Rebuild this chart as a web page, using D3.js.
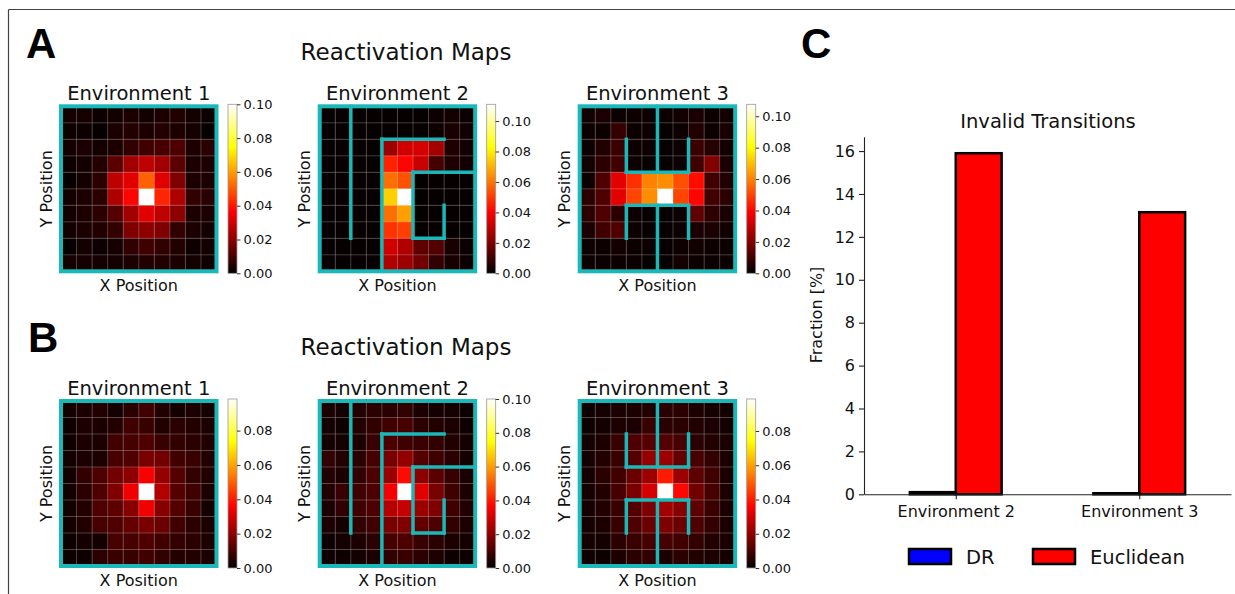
<!DOCTYPE html>
<html>
<head>
<meta charset="utf-8">
<script src="https://cdn.jsdelivr.net/npm/d3@7"></script>
<style>
body{margin:0;background:#fff;}
text{font-family:"DejaVu Sans",sans-serif;fill:#111;}
</style>
</head>
<body>
<div id="wrap"></div>
<script>
// ---- data ----
var envNames = ["Environment 1", "Environment 2", "Environment 3"];

// reactivation maps, rows top -> bottom, cols left -> right
var mapA1 = [
  [0.003,0.003,0.002,0.003,0.004,0.003,0.004,0.005,0.003,0.002],
  [0.002,0.002,0.001,0.004,0.005,0.004,0.005,0.004,0.003,0.001],
  [0.003,0.004,0.003,0.004,0.007,0.009,0.010,0.011,0.004,0.006],
  [0.002,0.003,0.005,0.013,0.023,0.027,0.023,0.013,0.004,0.004],
  [0.001,0.003,0.006,0.027,0.032,0.051,0.032,0.018,0.004,0.004],
  [0.003,0.004,0.006,0.025,0.037,0.100,0.042,0.025,0.007,0.006],
  [0.003,0.004,0.006,0.012,0.023,0.032,0.027,0.020,0.004,0.004],
  [0.003,0.004,0.005,0.007,0.018,0.020,0.018,0.007,0.004,0.003],
  [0.001,0.003,0.002,0.003,0.007,0.009,0.007,0.005,0.002,0.003],
  [0.003,0.003,0.003,0.003,0.004,0.005,0.005,0.004,0.003,0.002]
];
var mapA2 = [
  [0.001,0.001,0.001,0.001,0.001,0.001,0.001,0.002,0.003,0.002],
  [0.001,0.001,0.001,0.001,0.001,0.001,0.001,0.002,0.004,0.003],
  [0.001,0.001,0.001,0.001,0.025,0.033,0.034,0.026,0.005,0.003],
  [0.001,0.001,0.001,0.001,0.046,0.041,0.032,0.011,0.005,0.003],
  [0.001,0.001,0.001,0.001,0.059,0.054,0.001,0.001,0.001,0.001],
  [0.001,0.001,0.001,0.001,0.075,0.111,0.001,0.001,0.001,0.001],
  [0.001,0.001,0.001,0.001,0.059,0.067,0.001,0.001,0.001,0.001],
  [0.001,0.001,0.001,0.001,0.049,0.051,0.001,0.001,0.001,0.001],
  [0.001,0.001,0.001,0.001,0.033,0.028,0.015,0.013,0.004,0.002],
  [0.001,0.001,0.001,0.001,0.028,0.025,0.018,0.008,0.004,0.002]
];
var mapA3 = [
  [0.003,0.004,0.002,0.002,0.002,0.002,0.003,0.004,0.002,0.003],
  [0.002,0.002,0.008,0.002,0.002,0.001,0.002,0.005,0.002,0.004],
  [0.002,0.005,0.009,0.002,0.002,0.001,0.002,0.009,0.006,0.003],
  [0.003,0.007,0.010,0.002,0.001,0.001,0.002,0.010,0.020,0.004],
  [0.002,0.012,0.035,0.047,0.060,0.062,0.052,0.041,0.010,0.005],
  [0.007,0.012,0.035,0.050,0.062,0.1076,0.050,0.040,0.010,0.007],
  [0.007,0.012,0.007,0.002,0.001,0.001,0.002,0.015,0.007,0.004],
  [0.004,0.010,0.012,0.002,0.001,0.001,0.002,0.004,0.004,0.003],
  [0.002,0.002,0.003,0.002,0.002,0.001,0.002,0.003,0.002,0.002],
  [0.002,0.002,0.002,0.002,0.001,0.001,0.003,0.002,0.002,0.002]
];
var mapB1 = [
  [0.003,0.004,0.005,0.003,0.006,0.009,0.005,0.003,0.004,0.003],
  [0.002,0.004,0.004,0.005,0.009,0.008,0.005,0.006,0.005,0.004],
  [0.002,0.004,0.004,0.009,0.010,0.011,0.008,0.007,0.006,0.005],
  [0.003,0.004,0.004,0.010,0.011,0.017,0.016,0.009,0.008,0.005],
  [0.003,0.007,0.011,0.016,0.020,0.035,0.021,0.012,0.007,0.005],
  [0.003,0.006,0.011,0.018,0.034,0.0984,0.025,0.012,0.009,0.004],
  [0.003,0.005,0.011,0.013,0.019,0.034,0.019,0.012,0.008,0.003],
  [0.003,0.005,0.010,0.011,0.014,0.017,0.015,0.009,0.006,0.004],
  [0.002,0.003,0.003,0.010,0.010,0.011,0.009,0.007,0.006,0.004],
  [0.002,0.002,0.006,0.008,0.008,0.009,0.007,0.005,0.005,0.004]
];
var mapB2 = [
  [0.004,0.003,0.005,0.006,0.006,0.007,0.004,0.003,0.003,0.002],
  [0.003,0.002,0.005,0.007,0.009,0.010,0.006,0.005,0.004,0.002],
  [0.003,0.003,0.004,0.008,0.011,0.009,0.008,0.007,0.005,0.003],
  [0.007,0.005,0.006,0.010,0.017,0.021,0.012,0.009,0.006,0.003],
  [0.005,0.004,0.007,0.011,0.022,0.038,0.020,0.013,0.008,0.004],
  [0.005,0.008,0.009,0.011,0.035,0.100,0.032,0.017,0.009,0.004],
  [0.004,0.007,0.009,0.011,0.026,0.028,0.022,0.018,0.009,0.005],
  [0.004,0.003,0.007,0.009,0.017,0.018,0.014,0.011,0.007,0.004],
  [0.002,0.003,0.004,0.006,0.010,0.011,0.008,0.006,0.004,0.003],
  [0.002,0.002,0.003,0.004,0.007,0.008,0.006,0.004,0.002,0.002]
];
var mapB3 = [
  [0.002,0.003,0.004,0.004,0.005,0.006,0.006,0.004,0.003,0.003],
  [0.002,0.003,0.004,0.004,0.008,0.006,0.006,0.005,0.004,0.003],
  [0.003,0.004,0.008,0.011,0.012,0.012,0.010,0.006,0.005,0.004],
  [0.003,0.005,0.008,0.012,0.021,0.022,0.014,0.010,0.007,0.004],
  [0.003,0.006,0.009,0.015,0.022,0.040,0.022,0.013,0.009,0.004],
  [0.003,0.005,0.010,0.017,0.030,0.0987,0.037,0.016,0.010,0.004],
  [0.003,0.005,0.008,0.012,0.018,0.023,0.019,0.013,0.008,0.004],
  [0.003,0.004,0.008,0.011,0.015,0.018,0.015,0.011,0.007,0.004],
  [0.003,0.003,0.006,0.008,0.010,0.010,0.009,0.007,0.005,0.004],
  [0.002,0.002,0.004,0.006,0.007,0.004,0.006,0.005,0.004,0.003]
];

// walls in grid units [x1, y1, x2, y2]
var wallsEnv1 = [];
var wallsEnv2 = [[2,0,2,8],[4,2,4,10],[4,2,8,2],[6,4,10,4],[6,4,6,8],[6,8,8,8],[8,6,8,8]];
var wallsEnv3 = [[5,0,5,4],[3,4,7,4],[3,2,3,4],[7,2,7,4],[3,6,7,6],[3,6,3,8],[7,6,7,8],[5,6,5,10]];

var ticksTo10 = [0, 0.02, 0.04, 0.06, 0.08, 0.10];
var ticksTo08 = [0, 0.02, 0.04, 0.06, 0.08];

var barCategories = ["Environment 2", "Environment 3"];
var barSeries = ["DR", "Euclidean"];
var drValues = [0.10, 0.05];
var euclideanValues = [15.9, 13.15];
var barTicks = [0, 2, 4, 6, 8, 10, 12, 14, 16];

// ---- drawing ----
var teal = "#1ab8b8";

var svg = d3.select('#wrap')
  .append('svg')
  .attr("width", 1235)
  .attr("height", 594)
  .style("display", "block");

svg.append("rect").attr("width", 1235).attr("height", 594).attr("fill", "#fff");

// figure frame (top and left edges only visible)
svg.append("line").attr("x1", 8.5).attr("x2", 1235).attr("y1", 9.5).attr("y2", 9.5)
  .attr("stroke", "#444").attr("stroke-width", 1.2);
svg.append("line").attr("x1", 8.5).attr("x2", 8.5).attr("y1", 9.5).attr("y2", 594)
  .attr("stroke", "#444").attr("stroke-width", 1.2);

// panel letters
function letter(t, x, y) {
  svg.append("text").attr("x", x).attr("y", y).text(t)
    .style("font-family", "'Liberation Sans', Arial, sans-serif")
    .style("font-weight", "bold").style("font-size", "42px").style("fill", "#000");
}
letter("A", 26, 58);
letter("B", 28, 352);
letter("C", 801, 58);

// hot colormap (matplotlib)
function hot(t) {
  t = Math.max(0, Math.min(1, t));
  var r = Math.min(1, t / 0.365079);
  var g = Math.max(0, Math.min(1, (t - 0.365079) / (0.746032 - 0.365079)));
  var b = Math.max(0, Math.min(1, (t - 0.746032) / (1 - 0.746032)));
  return d3.rgb(r * 255, g * 255, b * 255).toString();
}

var mapW = 155.5, mapH = 165;
var mapLefts = [61, 319.7, 579.7];
var mapTops = [106.3, 401];

var grad = svg.append("defs").append("linearGradient").attr("id", "hotgrad")
  .attr("x1", 0).attr("y1", 1).attr("x2", 0).attr("y2", 0);
[0, 0.365079, 0.746032, 1].forEach(function (o) {
  grad.append("stop").attr("offset", o).attr("stop-color", hot(o));
});

function drawMap(grid, walls, ticks, x0, y0, title) {
  var g = svg.append("g");
  var vmax = d3.max(grid, function (r) { return d3.max(r); });
  var bx = d3.scaleBand().domain(d3.range(10)).range([x0, x0 + mapW]);
  var by = d3.scaleBand().domain(d3.range(10)).range([y0, y0 + mapH]);
  var gx = d3.scaleLinear().domain([0, 10]).range([x0, x0 + mapW]);
  var gy = d3.scaleLinear().domain([0, 10]).range([y0, y0 + mapH]);

  var cells = [];
  grid.forEach(function (row, r) { row.forEach(function (v, c) { cells.push({r: r, c: c, v: v}); }); });
  g.selectAll("rect.cell").data(cells).enter().append("rect")
    .attr("class", "cell")
    .attr("x", function (d) { return bx(d.c); })
    .attr("y", function (d) { return by(d.r); })
    .attr("width", bx.bandwidth() + 0.4)
    .attr("height", by.bandwidth() + 0.4)
    .attr("fill", function (d) { return hot(d.v / vmax); });

  // grid lines
  g.selectAll("line.gv").data(d3.range(1, 10)).enter().append("line")
    .attr("x1", gx).attr("x2", gx).attr("y1", y0).attr("y2", y0 + mapH)
    .attr("stroke", "rgba(255,255,255,0.3)").attr("stroke-width", 0.8);
  g.selectAll("line.gh").data(d3.range(1, 10)).enter().append("line")
    .attr("y1", gy).attr("y2", gy).attr("x1", x0).attr("x2", x0 + mapW)
    .attr("stroke", "rgba(255,255,255,0.3)").attr("stroke-width", 0.8);

  // walls
  g.selectAll("line.wall").data(walls).enter().append("line")
    .attr("x1", function (d) { return gx(d[0]); })
    .attr("y1", function (d) { return gy(d[1]); })
    .attr("x2", function (d) { return gx(d[2]); })
    .attr("y2", function (d) { return gy(d[3]); })
    .attr("stroke", teal).attr("stroke-width", 3.5).attr("stroke-linecap", "square");

  // frame
  g.append("rect").attr("x", x0).attr("y", y0).attr("width", mapW).attr("height", mapH)
    .attr("fill", "none").attr("stroke", teal).attr("stroke-width", 4);

  // labels
  g.append("text").attr("x", x0 + mapW / 2).attr("y", y0 - 6).attr("text-anchor", "middle")
    .style("font-size", "19.5px").text(title);
  g.append("text").attr("x", x0 + mapW / 2).attr("y", y0 + mapH + 20).attr("text-anchor", "middle")
    .style("font-size", "16px").text("X Position");
  g.append("text").attr("text-anchor", "middle")
    .attr("transform", "translate(" + (x0 - 9.5) + "," + (y0 + mapH / 2) + ") rotate(-90)")
    .style("font-size", "16px").text("Y Position");

  // colorbar
  var cbx = x0 + mapW + 11.5, cbTop = y0 - 2, cbBot = y0 + mapH + 2;
  g.append("rect").attr("x", cbx).attr("y", cbTop).attr("width", 9).attr("height", cbBot - cbTop)
    .attr("fill", "url(#hotgrad)").attr("stroke", "#999").attr("stroke-width", 0.8);
  var cs = d3.scaleLinear().domain([0, vmax]).range([cbBot, cbTop]);
  var ax = g.append("g").attr("transform", "translate(" + (cbx + 9) + ",0)")
    .call(d3.axisRight(cs).tickValues(ticks).tickSize(3.5).tickPadding(3).tickFormat(d3.format(".2f")));
  ax.select(".domain").remove();
  ax.selectAll("line").attr("stroke", "#333");
  ax.selectAll("text").style("font-size", "13px").style("font-family", "'DejaVu Sans',sans-serif").attr("fill", "#111");
}

var rowsMaps = [[mapA1, mapA2, mapA3], [mapB1, mapB2, mapB3]];
var rowsTicks = [[ticksTo10, ticksTo10, ticksTo10], [ticksTo08, ticksTo10, ticksTo08]];
var envWalls = [wallsEnv1, wallsEnv2, wallsEnv3];

rowsMaps.forEach(function (maps, ri) {
  svg.append("text").attr("x", 406).attr("y", mapTops[ri] - 46).attr("text-anchor", "middle")
    .style("font-size", "23px").text("Reactivation Maps");
  maps.forEach(function (m, ci) {
    drawMap(m, envWalls[ci], rowsTicks[ri][ci], mapLefts[ci], mapTops[ri], envNames[ci]);
  });
});

// ---- bar chart C ----
var bx0 = 864, bx1 = 1231, by0 = 494.3, by1 = 136.7;
var xb = d3.scaleLinear().domain([-0.5, 1.5]).range([bx0, bx1]);
var yb = d3.scaleLinear().domain([0, 16.67]).range([by0, by1]);
var barW = 0.25;
var bars = svg.append("g");

var barData = [];
barCategories.forEach(function (c, i) {
  barData.push({x: i - barW, v: drValues[i], col: "#0000ff"});
  barData.push({x: i, v: euclideanValues[i], col: "#ff0000"});
});
bars.selectAll("rect").data(barData).enter().append("rect")
  .attr("x", function (d) { return xb(d.x); })
  .attr("width", function (d) { return xb(d.x + barW) - xb(d.x); })
  .attr("y", function (d) { return yb(d.v); })
  .attr("height", function (d) { return yb(0) - yb(d.v); })
  .attr("fill", function (d) { return d.col; })
  .attr("stroke", "#000").attr("stroke-width", 2.5);

var yAx = svg.append("g").attr("transform", "translate(" + bx0 + ",0)")
  .call(d3.axisLeft(yb).tickValues(barTicks).tickSize(5).tickSizeOuter(0).tickPadding(4));
var xAx = svg.append("g").attr("transform", "translate(0," + by0 + ")")
  .call(d3.axisBottom(xb).tickValues([0, 1]).tickSize(5).tickSizeOuter(0).tickPadding(6)
    .tickFormat(function (i) { return barCategories[i]; }));
[yAx, xAx].forEach(function (a) {
  a.selectAll("path,line").attr("stroke", "#222").attr("stroke-width", 1.1);
  a.selectAll("text").style("font-size", "16px").style("font-family", "'DejaVu Sans',sans-serif").attr("fill", "#222");
});

svg.append("text").attr("x", 1048).attr("y", 127.5).attr("text-anchor", "middle")
  .style("font-size", "19.5px").text("Invalid Transitions");
svg.append("text").attr("text-anchor", "middle")
  .attr("transform", "translate(822,315) rotate(-90)")
  .style("font-size", "16px").text("Fraction [%]");

// legend
var legX = [909, 1033];
var legColors = ["#0000ff", "#ff0000"];
barSeries.forEach(function (s, i) {
  svg.append("rect").attr("x", legX[i]).attr("y", 549).attr("width", 42).attr("height", 15)
    .attr("fill", legColors[i]).attr("stroke", "#000").attr("stroke-width", 2.5);
  svg.append("text").attr("x", legX[i] + 57).attr("y", 563.5)
    .style("font-size", "19.5px").text(s);
});
</script>
</body>
</html>
